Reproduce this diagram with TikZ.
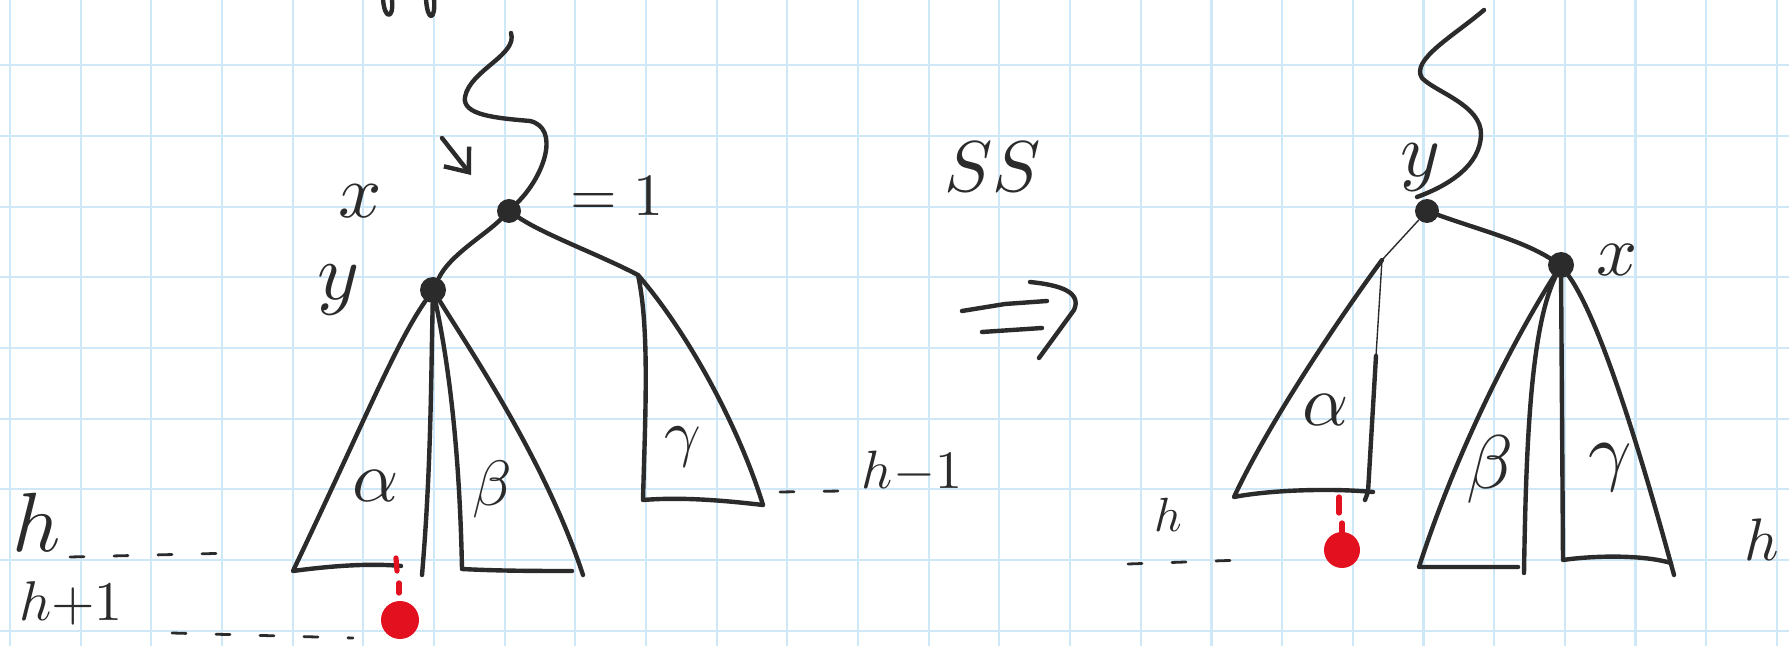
\documentclass[tikz,border=0pt]{standalone}
\usepackage{tikz}
\usetikzlibrary{arrows.meta}
\definecolor{sketchink}{HTML}{2B2B2B}
\definecolor{sketchred}{HTML}{E3101F}
\definecolor{sketchgrid}{HTML}{CFE8F8}

\begin{document}
\begin{tikzpicture}[x=0.5pt, y=-0.5pt,
  paper/.style={draw=sketchgrid, line width=1.1pt},
  pen/.style={draw=sketchink, line width=2.2pt, line cap=round, line join=round},
  thinpen/.style={draw=sketchink, line width=0.7pt, line cap=round},
  knot/.style={circle, fill=sketchink, inner sep=0pt, minimum size=12pt},
  lbl/.style={text=sketchink, inner sep=0pt, scale=#1/10},
  lbl/.default=40,
  blob/.style={circle, fill=sketchred, inner sep=0pt, minimum size=19pt},
  drip/.style={draw=sketchred, line width=2.6pt, line cap=round},
  guide/.style={draw=sketchink, line width=1.4pt, line cap=round, dash pattern=on 7pt off 15pt}]

  \clip (0,0) rectangle (1789,646);
  \fill[white] (0,0) rectangle (1789,646);
  \foreach \i in {0,...,25}
    \draw[paper] ({10+70.67*\i},0) -- ({10+70.67*\i},646);
  \foreach \j in {0,...,8}
    \draw[paper] (0,{65.3+70.67*\j}) -- (1789,{65.3+70.67*\j});

  % before
  \node[knot] (xl) at (509,211) {};
  \node[knot, minimum size=13pt] (yl) at (433,290) {};
  \coordinate (wl) at (511,33);
  \coordinate (gt1) at (638,275);
  \coordinate (al1) at (293,571);
  \coordinate (ar1) at (422,575);
  \coordinate (bl1) at (462,569);
  \coordinate (br1) at (583,575);
  \coordinate (gl1) at (643,500);
  \coordinate (gr1) at (763,505);
  \coordinate (dt) at (442,138);
  \coordinate (dh) at (471,175);

  \draw[pen] (383,-2) .. controls (384,20) and (394,20) .. (392,0);
  \draw[pen] (426,-2) .. controls (427,22) and (436,22) .. (434,-2);
  \draw[pen] (wl) .. controls (518,55) and (470,70) .. (465,97)
    .. controls (462,115) and (495,118) .. (530,121)
    .. controls (560,128) and (545,175) .. (xl);
  \draw[pen, -{Straight Barb[length=10pt, width=16pt]}] (dt) -- (dh);
  \draw[pen] (xl) .. controls (485,235) and (450,255) .. (yl);
  \draw[pen] (xl) .. controls (545,235) and (600,255) .. (gt1);

  \draw[pen] (yl) .. controls (395,345) and (365,420) .. (al1)
    .. controls (330,566) and (370,563) .. (401,566);
  \draw[pen] (yl) .. controls (431,380) and (431,470) .. (ar1);
  \draw[pen] (yl) .. controls (452,380) and (460,470) .. (bl1)
    .. controls (500,571) and (540,571) .. (572,571);
  \draw[pen] (yl) .. controls (470,350) and (545,460) .. (br1);
  \draw[pen] (gr1) .. controls (740,430) and (690,335) .. (gt1)
    .. controls (650,330) and (645,420) .. (gl1)
    .. controls (680,497) and (720,500) .. (gr1);

  \draw[drip] (396,558) -- (397,571);
  \draw[drip] (399,583) -- (399,593);
  \node[blob] (nl) at (400,620) {};

  \node[lbl=38] (lxl) at (360,201) {$x$};
  \node[lbl=40] (lyl) at (339,290) {$y$};
  \node[lbl=30] (bal) at (617,196) {$=1$};
  \node[lbl=36] (tal) at (376,486) {$\alpha$};
  \node[lbl=32] (tbl) at (492,490) {$\beta$};
  \node[lbl=32] (tgl) at (683,447) {$\gamma$};

  \node[lbl=42] (hl) at (37,522) {$h$};
  \node[lbl=28] (hpl) at (71,603) {$h{+}1$};
  \node[lbl=27] (hml) at (912,472) {$h{-}1$};
  \draw[guide] (70,557) -- (236,553);
  \draw[guide] (172,633) -- (353,638);
  \draw[guide] (780,492) -- (841,491);

  % arrow
  \node[lbl=36] (ss) at (993,167) {$SS$};
  \draw[pen] (962,311) -- (1005,304) -- (1047,301);
  \draw[pen] (982,332) -- (1042,328);
  \draw[pen] (1030,282) .. controls (1060,285) and (1082,292) .. (1074,310) -- (1039,358);

  % after
  \node[knot, minimum size=12pt] (yr) at (1427,211) {};
  \node[knot, minimum size=13pt] (xr) at (1561,265) {};
  \coordinate (wr) at (1484,10);
  \coordinate (at2) at (1382,260);
  \coordinate (al2) at (1234,497);
  \coordinate (bl2) at (1419,567);
  \coordinate (br2) at (1524,573);
  \coordinate (gl2) at (1563,560);
  \coordinate (gr2) at (1674,575);

  \draw[pen] (wr) .. controls (1455,35) and (1410,60) .. (1422,78)
    .. controls (1435,92) and (1482,105) .. (1481,135)
    .. controls (1480,165) and (1450,185) .. (1417,197);
  \draw[pen] (yr) .. controls (1480,230) and (1520,240) .. (xr);

  \draw[thinpen] (yr) -- (at2) -- (1376,356);
  \draw[pen] (at2) .. controls (1345,310) and (1270,420) .. (al2)
    .. controls (1270,490) and (1330,488) .. (1373,492);
  \draw[pen] (1376,356) -- (1368,492) -- (1365,500);
  \draw[pen] (xr) .. controls (1520,330) and (1460,440) .. (bl2) -- (1518,567);
  \draw[pen] (xr) .. controls (1530,330) and (1526,450) .. (br2);
  \draw[pen] (xr) -- (gl2) .. controls (1590,556) and (1640,554) .. (1671,563);
  \draw[pen] (xr) .. controls (1600,320) and (1640,450) .. (gr2);

  \draw[drip] (1339,497) -- (1339,513);
  \draw[drip] (1342,523) -- (1342,532);
  \node[blob, minimum size=18pt] (nr) at (1342,550) {};

  \node[lbl=38] (lyr) at (1420,168) {$y$};
  \node[lbl=36] (lxr) at (1617,260) {$x$};
  \node[lbl=36] (tar) at (1326,410) {$\alpha$};
  \node[lbl=38] (tbr) at (1490,470) {$\beta$};
  \node[lbl=38] (tgr) at (1610,468) {$\gamma$};
  \node[lbl=24] (hr) at (1168,515) {$h$};
  \node[lbl=30] (hrr) at (1762,540) {$h$};
  \draw[guide] (1128,564) -- (1243,560);
\end{tikzpicture}
\end{document}
